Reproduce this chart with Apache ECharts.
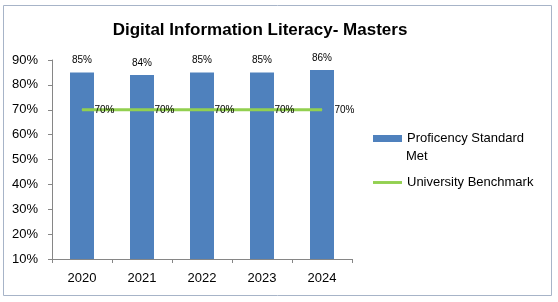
<!DOCTYPE html>
<html>
<head>
<meta charset="utf-8">
<script src="https://cdn.jsdelivr.net/npm/echarts@6/dist/echarts.min.js"></script>
<style>
  html, body { margin: 0; padding: 0; background: #fff; }
  #chart { width: 558px; height: 302px; }
</style>
</head>
<body>
<div id="chart"></div>
<script>
// chart data
const years = ['2020', '2021', '2022', '2023', '2024']
const proficiency = [85, 84, 85, 85, 86]
const benchmark = [70, 70, 70, 70, 70]
const yTicks = { min: 10, max: 90, step: 10 }

const chart = echarts.init(document.getElementById('chart'))
const font = 'Liberation Sans, Arial, sans-serif'

chart.setOption({
  backgroundColor: '#fff',
  animation: false,
  textStyle: { fontFamily: font },
  graphic: [
    {
      type: 'rect',
      shape: { x: 3.5, y: 5.5, width: 548, height: 290 },
      style: { fill: 'none', stroke: '#a7b4c8', lineWidth: 1 }
    },
    {
      type: 'text',
      x: 260,
      y: 30,
      style: {
        text: 'Digital Information Literacy- Masters',
        fontFamily: font,
        fontSize: 17,
        fontWeight: 'bold',
        fill: '#000',
        align: 'center',
        verticalAlign: 'middle'
      }
    },
    // second line of the bar legend label
    {
      type: 'text',
      x: 406,
      y: 156,
      style: {
        text: 'Met',
        fontFamily: font,
        fontSize: 13,
        fill: '#000',
        verticalAlign: 'middle'
      }
    }
  ],
  grid: { left: 52, right: 206, top: 60, bottom: 43 },
  legend: [
    {
      data: [{ name: 'Proficency Standard', icon: 'rect' }],
      left: 373,
      top: 132,
      padding: 0,
      itemWidth: 29,
      itemHeight: 7,
      itemGap: 0,
      textStyle: { fontSize: 13, color: '#000' }
    },
    {
      data: [{ name: 'University Benchmark', icon: 'path://M0,0H30V3H0Z' }],
      left: 373,
      top: 176,
      padding: 0,
      itemWidth: 29,
      itemHeight: 3,
      textStyle: { fontSize: 13, color: '#000' }
    }
  ],
  xAxis: {
    type: 'category',
    data: years,
    axisLine: { lineStyle: { color: '#868686' } },
    axisTick: { show: true, length: 4, lineStyle: { color: '#868686' } },
    axisLabel: { color: '#000', fontSize: 13, margin: 13 }
  },
  yAxis: {
    type: 'value',
    min: yTicks.min,
    max: yTicks.max,
    interval: yTicks.step,
    axisLine: { show: true, lineStyle: { color: '#868686' } },
    axisTick: { show: true, length: 4, lineStyle: { color: '#868686' } },
    splitLine: { show: false },
    axisLabel: { color: '#000', fontSize: 13, margin: 14, formatter: '{value}%' }
  },
  series: [
    {
      name: 'Proficency Standard',
      type: 'bar',
      barWidth: 24,
      itemStyle: { color: '#4f81bd' },
      label: {
        show: true,
        position: 'top',
        distance: 7,
        fontSize: 10,
        color: '#000',
        formatter: '{c}%'
      },
      data: proficiency
    },
    {
      name: 'University Benchmark',
      type: 'line',
      symbol: 'circle',
      symbolSize: 1,
      itemStyle: { color: '#92d050' },
      lineStyle: { color: '#92d050', width: 3 },
      label: {
        show: true,
        position: 'right',
        distance: 12,
        fontSize: 10,
        color: '#000',
        formatter: '{c}%'
      },
      data: benchmark
    }
  ]
})
</script>
</body>
</html>
